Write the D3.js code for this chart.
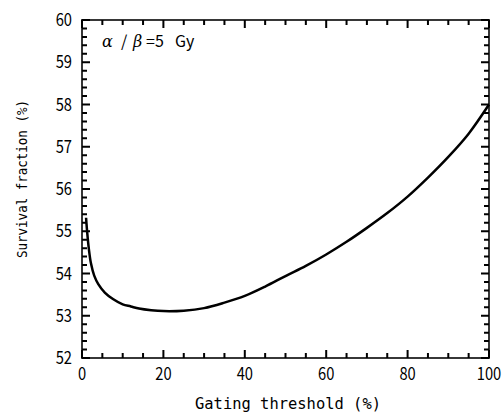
<!DOCTYPE html>
<html><head><meta charset="utf-8">
<script src="https://cdn.jsdelivr.net/npm/d3@7"></script>
<style>body{margin:0;background:#fff}svg{display:block}</style>
</head><body>
<script>
const gating = [1, 1.3, 1.7, 2.2, 3, 4, 5.6, 7.7, 10, 12, 14, 17, 20, 25, 30, 35, 40, 45, 50, 55, 60, 65, 70, 75, 80, 85, 90, 95, 100];
const survival = [55.32, 54.95, 54.57, 54.24, 53.95, 53.75, 53.55, 53.39, 53.27, 53.22, 53.17, 53.13, 53.11, 53.12, 53.18, 53.31, 53.47, 53.69, 53.94, 54.18, 54.45, 54.75, 55.08, 55.43, 55.82, 56.27, 56.76, 57.31, 58.0];
const xTicks = [0, 20, 40, 60, 80, 100];
const yTicks = [52, 53, 54, 55, 56, 57, 58, 59, 60];
const xLabel = "Gating threshold (%)";
const yLabel = "Survival fraction (%)";

const W = 504, H = 414;
const m = {l: 82, r: 489, t: 20, b: 358};
const numFont = "'Noto Sans CJK JP', 'Noto Sans', sans-serif";
const monoFont = "'DejaVu Sans Mono', 'Liberation Mono', monospace";
const svg = d3.select("body").append("svg").attr("width", W).attr("height", H);
const x = d3.scaleLinear().domain([0, 100]).range([m.l, m.r]);
const y = d3.scaleLinear().domain([52, 60]).range([m.b, m.t]);

const xMinor = d3.range(0, 101, 5).filter(v => v % 20 !== 0);
const yMinor = d3.range(0, 41).map(i => 52 + i * 0.2).filter((v, i) => i % 5 !== 0);

// frame
svg.append("rect").attr("x", m.l).attr("y", m.t).attr("width", m.r - m.l).attr("height", m.b - m.t)
  .attr("fill", "none").attr("stroke", "#222").attr("stroke-width", 1.8);

// inward ticks on all four sides, one path each
let dx = "";
xMinor.forEach(v => { dx += `M${x(v)},${m.b}v-5M${x(v)},${m.t}v5`; });
xTicks.forEach(v => { dx += `M${x(v)},${m.b}v-8M${x(v)},${m.t}v8`; });
let dy = "";
yMinor.forEach(v => { dy += `M${m.l},${y(v)}h5M${m.r},${y(v)}h-5`; });
yTicks.forEach(v => { dy += `M${m.l},${y(v)}h8M${m.r},${y(v)}h-8`; });
svg.append("path").attr("d", dx).attr("fill", "none").attr("stroke", "#000").attr("stroke-width", 2);
svg.append("path").attr("d", dy).attr("fill", "none").attr("stroke", "#000").attr("stroke-width", 2);

// tick labels
svg.append("g").selectAll("text").data(xTicks).join("text")
  .attr("transform", d => `translate(${x(d)},380) scale(0.92,1.08)`).attr("text-anchor", "middle")
  .attr("font-family", numFont).attr("font-size", 16).attr("fill", "#000").text(d => d);
svg.append("g").selectAll("text").data(yTicks).join("text")
  .attr("transform", d => `translate(72,${y(d) + 6}) scale(0.92,1.08)`).attr("text-anchor", "end")
  .attr("font-family", numFont).attr("font-size", 16).attr("fill", "#000").text(d => d);

// axis titles
svg.append("text").attr("x", 195).attr("y", 409).attr("textLength", 186).attr("lengthAdjust", "spacingAndGlyphs")
  .attr("font-family", monoFont).attr("font-size", 15).text(xLabel);
svg.append("text").attr("transform", "translate(27,258) rotate(-90)").attr("textLength", 158).attr("lengthAdjust", "spacingAndGlyphs")
  .attr("font-family", monoFont).attr("font-size", 14).text(yLabel);

// annotation
const af = "'DejaVu Serif', serif";
svg.append("text").attr("x", 102).attr("y", 47).attr("font-family", af).attr("font-style", "italic").attr("font-size", 16).text("α");
svg.append("text").attr("x", 121).attr("y", 47).attr("font-family", numFont).attr("font-size", 16).text("/");
svg.append("text").attr("x", 133).attr("y", 47).attr("font-family", af).attr("font-style", "italic").attr("font-size", 16).text("β");
svg.append("text").attr("x", 146).attr("y", 47).attr("font-family", numFont).attr("font-size", 16).text("=5");
svg.append("text").attr("x", 175).attr("y", 47).attr("font-family", numFont).attr("font-size", 16).text("Gy");

// curve
const data = gating.map((g, i) => ({g, s: survival[i]}));
svg.append("path").datum(data)
  .attr("d", d3.line().x(d => x(d.g)).y(d => y(d.s)).curve(d3.curveCatmullRom.alpha(0.5)))
  .attr("fill", "none").attr("stroke", "#000").attr("stroke-width", 2.5);
</script>
</body></html>
